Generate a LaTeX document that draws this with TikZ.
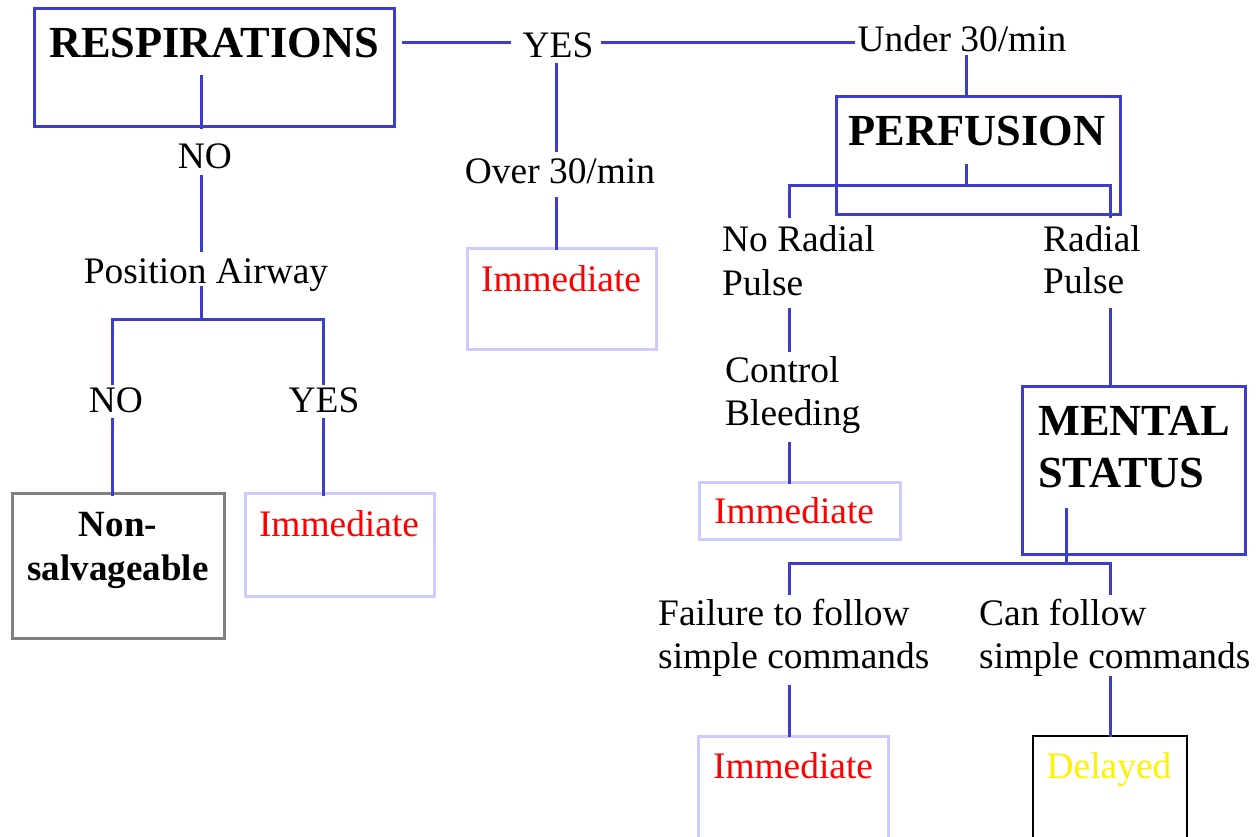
\documentclass[tikz,border=0pt]{standalone}
\usepackage{fontspec}
\setmainfont{Liberation Serif}
\definecolor{lineblue}{RGB}{60,60,205}
\definecolor{lightbox}{RGB}{204,204,255}
\definecolor{graybox}{RGB}{128,128,128}
\tikzset{
  conn/.style={draw=lineblue, line width=3pt},
  boxbase/.style={inner sep=0pt, line width=3pt},
  bluebox/.style={boxbase, draw=lineblue},
  palebox/.style={boxbase, draw=lightbox},
  greybox/.style={boxbase, draw=graybox},
  blackbox/.style={boxbase, draw=black, line width=2.5pt},
  lbl/.style={font=\fontsize{37.4}{44}\selectfont, inner sep=0pt, anchor=base},
  lblw/.style={lbl, anchor=base west},
  head/.style={font=\fontsize{44.4}{50}\selectfont\bfseries, inner sep=0pt, anchor=base},
  headw/.style={head, anchor=base west},
  subhead/.style={font=\fontsize{37}{44}\selectfont\bfseries, inner sep=0pt, anchor=base},
  red/.style={text=red},
}
\begin{document}
\begin{tikzpicture}[x=1pt,y=-1pt]
\useasboundingbox (0,0) rectangle (1260,836);
\clip (0,0) rectangle (1260,836);
\fill[white] (0,0) rectangle (1260,836);

% boxes
\node[bluebox, minimum width=360pt, minimum height=118pt] (respbox) at (214,67) {};
\node[bluebox, minimum width=284pt, minimum height=118pt] (perfbox) at (978,155) {};
\node[bluebox, minimum width=223pt, minimum height=168pt] (mentbox) at (1133.5,470) {};
\node[greybox, minimum width=212pt, minimum height=145pt] (nsbox) at (118,565.5) {};
\node[palebox, minimum width=189pt, minimum height=103pt] (imm1box) at (339.5,544.5) {};
\node[palebox, minimum width=189pt, minimum height=101pt] (imm2box) at (561.5,298.5) {};
\node[palebox, minimum width=201pt, minimum height=57pt] (imm3box) at (799.5,510.5) {};
\node[palebox, minimum width=190pt, minimum height=144pt] (imm4box) at (793,808) {};
\node[blackbox, minimum width=154pt, minimum height=144pt] (delbox) at (1110,808) {};

% texts
\node[head] (resp) at (214,57) {RESPIRATIONS};
\node[lbl] (yes0) at (558,57) {YES};
\node[lbl] (under) at (962,51) {Under 30/min};
\node[lbl] (no0) at (205,168) {NO};
\node[lbl] (posair) at (206,283) {Position Airway};
\node[lbl] (no1) at (116,412) {NO};
\node[lbl] (yes1) at (324,412) {YES};
\node[subhead] (non) at (118,536) {Non-};
\node[subhead] (salv) at (118,580) {salvageable};
\node[lbl, red] (imm1) at (339,536) {Immediate};
\node[lbl] (over) at (560,183) {Over 30/min};
\node[lbl, red] (imm2) at (561,291) {Immediate};
\node[head] (perf) at (977,145) {PERFUSION};
\node[lblw] (norad) at (722,251) {No Radial};
\node[lblw] (nopulse) at (722,295) {Pulse};
\node[lblw] (control) at (725,382) {Control};
\node[lblw] (bleed) at (725,425) {Bleeding};
\node[lbl, red] (imm3) at (794,523) {Immediate};
\node[lblw] (rad) at (1043,251) {Radial};
\node[lblw] (radpulse) at (1043,293) {Pulse};
\node[headw] (mental) at (1038,435) {MENTAL};
\node[headw] (status) at (1038,487) {STATUS};
\node[lblw] (fail) at (658,625) {Failure to follow};
\node[lblw] (failsc) at (658,668) {simple commands};
\node[lblw] (can) at (979,625) {Can follow};
\node[lblw] (cansc) at (979,668) {simple commands};
\node[lbl, red] (imm4) at (793,778) {Immediate};
\node[lbl, text=yellow] (del) at (1109,778) {Delayed};

% connector end points
\coordinate (r1) at (201,75);   \coordinate (r2) at (201,129);
\coordinate (n1) at (201,175);  \coordinate (n2) at (201,252);
\coordinate (p1) at (201,286);  \coordinate (p2) at (201,319);
\coordinate (pl) at (112,319);  \coordinate (pr) at (323,319);
\coordinate (pl2) at (112,385); \coordinate (pr2) at (323,385);
\coordinate (nl1) at (112,418); \coordinate (nl2) at (112,496);
\coordinate (yr1) at (323,418); \coordinate (yr2) at (323,496);
\coordinate (t1) at (402,42);   \coordinate (t2) at (511,42);
\coordinate (t3) at (601,42);   \coordinate (t4) at (855,42);
\coordinate (y1) at (556,63);   \coordinate (y2) at (556,152);
\coordinate (o1) at (556,197);  \coordinate (o2) at (556,250);
\coordinate (u1) at (966,55);   \coordinate (u2) at (966,97);
\coordinate (f1) at (966,164);  \coordinate (f2) at (966,185);
\coordinate (fl) at (789,185);  \coordinate (fr) at (1110,185);
\coordinate (fl2) at (789,218); \coordinate (fr2) at (1110,218);
\coordinate (np1) at (789,308); \coordinate (np2) at (789,352);
\coordinate (cb1) at (789,442); \coordinate (cb2) at (789,484);
\coordinate (rp1) at (1110,308); \coordinate (rp2) at (1110,387);
\coordinate (m1) at (1066,508); \coordinate (m2) at (1066,563);
\coordinate (ml) at (789,563);  \coordinate (mr) at (1110,563);
\coordinate (ml2) at (789,595); \coordinate (mr2) at (1110,595);
\coordinate (fs1) at (789,685); \coordinate (fs2) at (789,737);
\coordinate (cs1) at (1110,676); \coordinate (cs2) at (1110,737);

% connectors
\draw[conn] (r1) -- (r2);
\draw[conn] (n1) -- (n2);
\draw[conn] (p1) -- (p2);
\draw[conn] (pl2) -- (pl) -- (pr) -- (pr2);
\draw[conn] (nl1) -- (nl2);
\draw[conn] (yr1) -- (yr2);
\draw[conn] (t1) -- (t2);
\draw[conn] (t3) -- (t4);
\draw[conn] (y1) -- (y2);
\draw[conn] (o1) -- (o2);
\draw[conn] (u1) -- (u2);
\draw[conn] (f1) -- (f2);
\draw[conn] (fl2) -- (fl) -- (fr) -- (fr2);
\draw[conn] (np1) -- (np2);
\draw[conn] (cb1) -- (cb2);
\draw[conn] (rp1) -- (rp2);
\draw[conn] (m1) -- (m2);
\draw[conn] (ml2) -- (ml) -- (mr) -- (mr2);
\draw[conn] (fs1) -- (fs2);
\draw[conn] (cs1) -- (cs2);
\end{tikzpicture}
\end{document}
